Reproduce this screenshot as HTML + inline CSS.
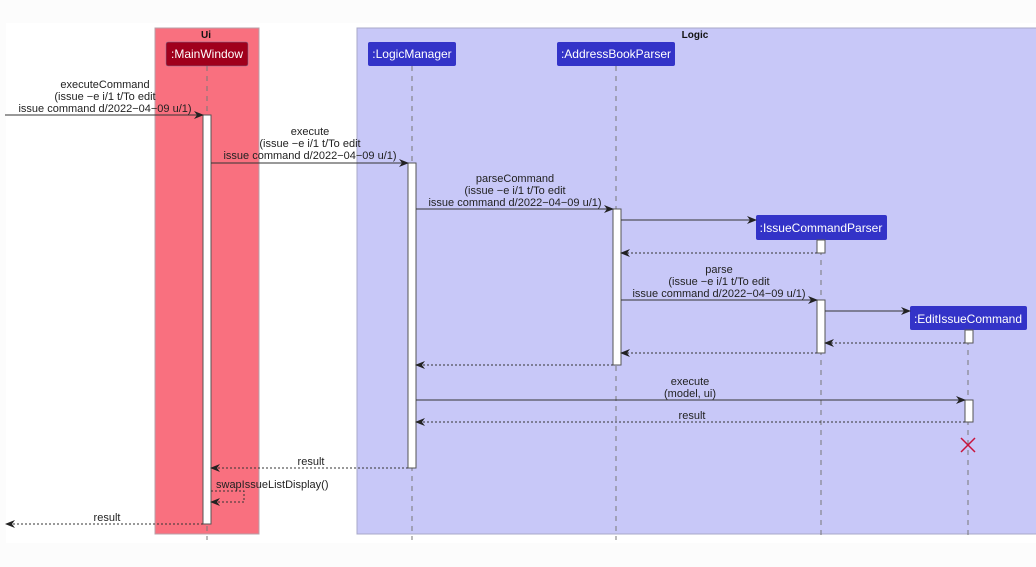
<!DOCTYPE html>
<html><head><meta charset="utf-8"><style>
html,body{margin:0;padding:0;background:#fcfcfc;}
svg{display:block;font-family:"Liberation Sans",sans-serif;}
</style></head><body>
<svg width="1036" height="567" viewBox="0 0 1036 567" xmlns="http://www.w3.org/2000/svg">
<defs>
<marker id="a" markerWidth="10" markerHeight="8" refX="9" refY="4" orient="auto" markerUnits="userSpaceOnUse">
<path d="M0,0 L10,4 L0,8 L3,4 Z" fill="#222"/></marker>
</defs>
<rect x="6" y="23" width="1030" height="520" fill="#ffffff"/>
<rect x="155" y="28" width="104" height="506" fill="#f9707f" stroke="#b8a0a8" stroke-width="1"/>
<rect x="357" y="28" width="690" height="506" fill="#c8c8f8" stroke="#a8a8c8" stroke-width="1"/>
<text x="206" y="38" font-size="10" font-weight="bold" text-anchor="middle" fill="#111">Ui</text>
<text x="695" y="38" font-size="10" font-weight="bold" text-anchor="middle" fill="#111">Logic</text>
<g stroke="#777" stroke-dasharray="5,5" stroke-width="1">
<line x1="207" y1="66" x2="207" y2="540"/>
<line x1="412" y1="66" x2="412" y2="540"/>
<line x1="616" y1="66" x2="616" y2="540"/>
<line x1="821" y1="240" x2="821" y2="540"/>
<line x1="968" y1="330" x2="968" y2="540"/>
</g>
<g font-size="12" fill="#fff" text-anchor="middle">
<rect x="166" y="42" width="82" height="24" rx="2" fill="#a0001c" stroke="#7a7a9a" stroke-width="0.5"/><text x="207" y="58">:MainWindow</text>
<rect x="368" y="42" width="88" height="24" rx="2" fill="#3333c8"/><text x="412" y="58">:LogicManager</text>
<rect x="557" y="42" width="118" height="24" rx="2" fill="#3333c8"/><text x="616" y="58">:AddressBookParser</text>
<rect x="756" y="215" width="131" height="25" rx="2" fill="#3333c8"/><text x="821" y="232">:IssueCommandParser</text>
<rect x="910" y="306" width="117" height="24" rx="2" fill="#3333c8"/><text x="968" y="323">:EditIssueCommand</text>
</g>
<g fill="#fff" stroke="#555" stroke-width="1">
<rect x="203" y="115" width="8" height="409"/>
<rect x="408" y="163" width="8" height="305"/>
<rect x="613" y="209" width="8" height="156"/>
<rect x="817" y="240" width="8" height="13"/>
<rect x="817" y="300" width="8" height="53"/>
<rect x="965" y="330" width="8" height="13"/>
<rect x="965" y="400" width="8" height="22"/>
</g>
<g stroke="#333" stroke-width="1" fill="none" marker-end="url(#a)">
<line x1="5" y1="115" x2="203" y2="115"/>
<line x1="211" y1="163" x2="408" y2="163"/>
<line x1="416" y1="209" x2="613" y2="209"/>
<line x1="621" y1="220" x2="756" y2="220"/>
<line x1="621" y1="300" x2="817" y2="300"/>
<line x1="825" y1="311" x2="910" y2="311"/>
<line x1="416" y1="400" x2="965" y2="400"/>
</g>
<g stroke="#333" stroke-width="1" fill="none" stroke-dasharray="2,2" marker-end="url(#a)">
<line x1="817" y1="253" x2="621" y2="253"/>
<line x1="965" y1="343" x2="825" y2="343"/>
<line x1="817" y1="353" x2="621" y2="353"/>
<line x1="613" y1="365" x2="416" y2="365"/>
<line x1="965" y1="422" x2="416" y2="422"/>
<line x1="408" y1="468" x2="211" y2="468"/>
<polyline points="211,491 244,491 244,502 211,502"/>
<line x1="203" y1="524" x2="6" y2="524"/>
</g>
<g stroke="#c8143c" stroke-width="1.5"><line x1="961" y1="438" x2="975" y2="452"/><line x1="975" y1="438" x2="961" y2="452"/></g>
<g font-size="11" fill="#222" text-anchor="middle">
<text x="105" y="88">executeCommand</text><text x="105" y="100">(issue −e i/1 t/To edit</text><text x="105" y="112">issue command d/2022−04−09 u/1)</text>
<text x="310" y="135">execute</text><text x="310" y="147">(issue −e i/1 t/To edit</text><text x="310" y="159">issue command d/2022−04−09 u/1)</text>
<text x="515" y="182">parseCommand</text><text x="515" y="194">(issue −e i/1 t/To edit</text><text x="515" y="206">issue command d/2022−04−09 u/1)</text>
<text x="719" y="273">parse</text><text x="719" y="285">(issue −e i/1 t/To edit</text><text x="719" y="297">issue command d/2022−04−09 u/1)</text>
<text x="690" y="385">execute</text><text x="690" y="397">(model, ui)</text>
<text x="692" y="419">result</text>
<text x="311" y="465">result</text>
<text x="216" y="488" text-anchor="start">swapIssueListDisplay()</text>
<text x="107" y="521">result</text>
</g>
</svg>
</body></html>
